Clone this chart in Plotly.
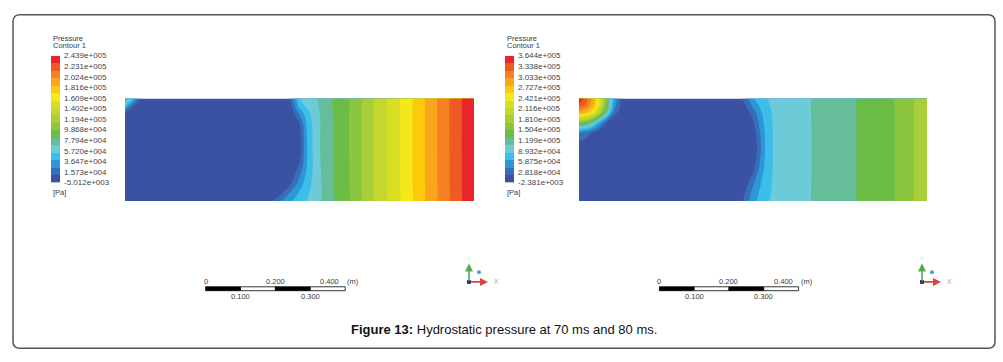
import plotly.graph_objects as go

W, H = 1003, 362

# ---------------- data ----------------
x_grid = [0, 0.02, 0.04, 0.06, 0.08, 0.10, 0.13, 0.20, 0.30, 0.40, 0.44, 0.47,
          0.50, 0.52, 0.54, 0.56, 0.60, 0.65, 0.70, 0.80, 0.90, 1.00]
y_grid = [0, 0.02, 0.05, 0.10, 0.15, 0.20, 0.23, 0.26, 0.28, 0.30]

A = -5012  # field minimum, 70 ms
p70 = [
    [A, A, A, A, A, A, A, A, A, A, 20000, 35000, 48000, 54000, 60000, 67000, 83000, 99000, 121500, 160000, 201500, 243500],
    [A, A, A, A, A, A, A, A, A, A, 4000, 26000, 42000, 51000, 58000, 66500, 83000, 99500, 121800, 160300, 201800, 243600],
    [A, A, A, A, A, A, A, A, A, A, A, 4000, 32000, 46000, 57000, 67000, 83500, 99800, 122000, 160500, 202000, 243700],
    [A, A, A, A, A, A, A, A, A, A, A, A, 12000, 38000, 55500, 67800, 83800, 100000, 122200, 160600, 202100, 243800],
    [A, A, A, A, A, A, A, A, A, A, A, A, -130, 36960, 56100, 68600, 84000, 100100, 122500, 160800, 202300, 243900],
    [A, A, A, A, A, A, A, A, A, A, A, A, 2000, 38000, 56000, 68500, 84100, 100100, 122500, 160800, 202300, 243900],
    [A, A, A, A, A, A, A, A, A, A, A, A, 10000, 40000, 57000, 68500, 84200, 100100, 122400, 160700, 202300, 243900],
    [12000, A, A, A, A, A, A, A, A, A, A, A, 30000, 48000, 60000, 69000, 84500, 100000, 122300, 160700, 202300, 243900],
    [50000, 16000, A, A, A, A, A, A, A, A, A, -2000, 45000, 57000, 63000, 70000, 85000, 99500, 122200, 160600, 202400, 243900],
    [95000, 55000, 16000, A, A, A, A, A, A, A, A, 8000, 53550, 59000, 65000, 71000, 85500, 99000, 122000, 160500, 202500, 243900],
]

B = -2381  # field minimum, 80 ms
p80 = [
    [B, B, B, B, B, B, B, B, B, B, B, 18000, 55000, 70000, 82000, 87000, 92500, 103000, 110500, 127500, 146000, 185000],
    [B, B, B, B, B, B, B, B, B, B, B, 12000, 50000, 66000, 80000, 87000, 92500, 103000, 110500, 127500, 146000, 185000],
    [B, B, B, B, B, B, B, B, B, B, B, B, 38000, 60000, 78000, 86500, 92300, 103000, 110200, 127500, 146000, 185000],
    [B, B, B, B, B, B, B, B, B, B, B, B, 10000, 45000, 74000, 86000, 92000, 103000, 110000, 127500, 146000, 185000],
    [B, B, B, B, B, B, B, B, B, B, B, B, B, 35000, 72000, 86000, 92000, 103000, 110000, 127500, 146000, 185000],
    [40000, 30000, 15000, B, B, B, B, B, B, B, B, B, 5000, 40000, 73000, 86000, 92000, 103000, 110000, 127500, 146000, 185000],
    [150000, 140000, 110000, 60000, 15000, B, B, B, B, B, B, B, 15000, 48000, 75000, 86500, 92200, 103000, 110200, 127500, 146000, 185000],
    [290000, 278000, 245000, 185000, 110000, 32000, B, B, B, B, B, B, 30000, 57000, 78000, 87000, 92300, 103000, 110300, 127500, 146000, 185000],
    [335000, 318000, 280000, 220000, 140000, 52000, B, B, B, B, B, 8000, 45000, 66000, 81000, 87500, 92500, 103000, 110500, 127500, 146000, 185000],
    [364000, 335000, 292000, 230000, 150000, 60000, B, B, B, B, B, 20000, 60000, 75000, 84500, 88000, 93000, 103000, 110500, 127500, 146500, 185000],
]

range70 = [-5012, 243900]
range80 = [-2381, 364400]
labels70 = ["-5.012e+003", "1.573e+004", "3.647e+004", "5.720e+004", "7.794e+004", "9.868e+004",
            "1.194e+005", "1.402e+005", "1.609e+005", "1.816e+005", "2.024e+005", "2.231e+005", "2.439e+005"]
labels80 = ["-2.381e+003", "2.818e+004", "5.875e+004", "8.932e+004", "1.199e+005", "1.504e+005",
            "1.810e+005", "2.116e+005", "2.421e+005", "2.727e+005", "3.033e+005", "3.338e+005", "3.644e+005"]
band_colors = ['#3b52a3', '#376eb9', '#2d96d7', '#3cbeea', '#6ccbd6', '#66bd9a', '#6cbd45',
               '#8cc63f', '#a8cf3a', '#c4d72e', '#d8df22', '#f4e81a', '#fdc90b', '#f9a61c',
               '#f58220', '#ee5a24', '#e9242a']
scale_ticks = [0, 0.1, 0.2, 0.3, 0.4]
scale_offset = 0.231

# ---------------- helpers ----------------
n = len(band_colors)
cscale = []
for i, c in enumerate(band_colors):
    cscale.append([i / n, c])
    cscale.append([(i + 1) / n, c])


def px(x):
    return x / W


def py(y):
    return 1 - y / H


FONT = "Arial, Liberation Sans, sans-serif"
TXT = "#3a3a3a"

fig = go.Figure()

panels = [
    dict(z=p70, rng=range70, labels=labels70, xa='x', ya='y', lx='x3', ly='y3',
         dom=(125, 474), cb=51),
    dict(z=p80, rng=range80, labels=labels80, xa='x2', ya='y2', lx='x4', ly='y4',
         dom=(579, 927), cb=505),
]

layout_axes = {}
annotations = []
shapes = []

for k, p in enumerate(panels):
    lo, hi = p['rng']
    size = (hi - lo) / n
    fig.add_trace(go.Contour(
        x=x_grid, y=y_grid, z=p['z'], xaxis=p['xa'], yaxis=p['ya'],
        zmin=lo, zmax=hi, zauto=False, autocontour=False,
        contours=dict(start=lo + size, end=hi - size * 0.999, size=size,
                      coloring='fill', showlines=False),
        colorscale=cscale, showscale=False, line=dict(width=0, smoothing=1.0),
        hoverinfo='skip'))
    # legend bar
    mids = [lo + size * (i + 0.5) for i in range(n)]
    fig.add_trace(go.Heatmap(
        x=[0], y=mids, z=[[m] for m in mids], xaxis=p['lx'], yaxis=p['ly'],
        zmin=lo, zmax=hi, colorscale=cscale, showscale=False, hoverinfo='skip'))
    tickvals = [lo + (hi - lo) * i / 12 for i in range(13)]

    sx = '' if k == 0 else '2'
    lsx = '3' if k == 0 else '4'
    x0, x1 = p['dom']
    layout_axes['xaxis' + sx] = dict(domain=[px(x0), px(x1)], range=[0, 1], visible=False,
                                     anchor='y' + sx)
    layout_axes['yaxis' + sx] = dict(domain=[py(202), py(97)], range=[0, 0.3], visible=False,
                                     anchor='x' + sx)
    cb = p['cb']
    layout_axes['xaxis' + lsx] = dict(domain=[px(cb), px(cb + 9)], range=[-0.5, 0.5],
                                      visible=False, anchor='y' + lsx)
    layout_axes['yaxis' + lsx] = dict(domain=[py(183), py(53)], range=[lo, hi],
                                      anchor='x' + lsx, side='right', showgrid=False,
                                      zeroline=False, showline=False, ticks='',
                                      tickvals=tickvals, ticktext=p['labels'],
                                      ticklabelstandoff=3,
                                      tickfont=dict(family=FONT, size=8, color='#444444'))
    annotations += [
        dict(x=px(cb), y=py(35), text="Pressure", xanchor='left', yanchor='middle'),
        dict(x=px(cb), y=py(43), text="Contour 1", xanchor='left', yanchor='middle'),
        dict(x=px(cb), y=py(193), text="[Pa]", xanchor='left', yanchor='middle'),
    ]

    # scale bar in data units of the panel axis
    xr = 'x' + sx
    for i in range(len(scale_ticks) - 1):
        shapes.append(dict(type='rect', xref=xr, yref='paper',
                           x0=scale_offset + scale_ticks[i], x1=scale_offset + scale_ticks[i + 1],
                           y0=py(294), y1=py(290),
                           fillcolor='black' if i % 2 == 0 else 'white',
                           line=dict(color='black', width=0.8)))
    for i, t in enumerate(scale_ticks):
        lab = "0" if t == 0 else f"{t:.3f}"
        if i % 2 == 0:
            if i == len(scale_ticks) - 1:
                annotations.append(dict(x=scale_offset + t, y=py(285), xref=xr, text=lab,
                                        xanchor='right', xshift=-4, yanchor='middle'))
                annotations.append(dict(x=scale_offset + t, y=py(285), xref=xr, text="(m)",
                                        xanchor='left', xshift=0, yanchor='middle'))
            else:
                annotations.append(dict(x=scale_offset + t, y=py(285), xref=xr, text=lab,
                                        xanchor='center', yanchor='middle'))
        else:
            annotations.append(dict(x=scale_offset + t, y=py(300), xref=xr, text=lab,
                                    xanchor='center', yanchor='middle'))

    # axis triad
    ox = 469 if k == 0 else 922
    oy = 285
    annotations += [
        dict(x=px(ox), y=py(oy - 19), ax=0, ay=19, text='', showarrow=True, arrowhead=2,
             arrowsize=1, arrowwidth=1.6, arrowcolor='#5aa64e'),
        dict(x=px(ox + 19), y=py(oy), ax=-19, ay=0, text='', showarrow=True, arrowhead=2,
             arrowsize=1, arrowwidth=1.6, arrowcolor='#e0413a'),
        dict(x=px(ox + 27), y=py(oy), text='X', xanchor='center', yanchor='middle',
             font=dict(family=FONT, size=7, color='#ec8a86')),
        dict(x=px(ox), y=py(oy - 23), text='Y', xanchor='center', yanchor='middle',
             font=dict(family=FONT, size=6, color='#c8d8c0')),
    ]
    shapes.append(dict(type='rect', xref='paper', yref='paper', x0=px(ox - 2), x1=px(ox + 2),
                       y0=py(oy + 2), y1=py(oy - 2), fillcolor='#27308a', line=dict(width=0)))
    shapes.append(dict(type='circle', xref='paper', yref='paper', x0=px(ox + 8), x1=px(ox + 12),
                       y0=py(oy - 8), y1=py(oy - 12), fillcolor='#3aa6d8', line=dict(width=0)))

for a in annotations:
    a.setdefault('xref', 'paper')
    a.setdefault('yref', 'paper')
    a.setdefault('showarrow', False)
    a.setdefault('font', dict(family=FONT, size=7.5, color=TXT))

annotations.append(dict(x=px(504), y=py(334), xref='paper', yref='paper', showarrow=False,
                        text="<b>Figure 13:</b> Hydrostatic pressure at 70 ms and 80 ms.",
                        xanchor='center', yanchor='middle',
                        font=dict(family=FONT, size=13, color='#111111')))

# rounded outer frame
r = 7
L, R, T, Bm = 13, 995, 11, 353
path = (f"M {px(L + r)},{py(T)} L {px(R - r)},{py(T)} Q {px(R)},{py(T)} {px(R)},{py(T + r)} "
        f"L {px(R)},{py(Bm - r)} Q {px(R)},{py(Bm)} {px(R - r)},{py(Bm)} "
        f"L {px(L + r)},{py(Bm)} Q {px(L)},{py(Bm)} {px(L)},{py(Bm - r)} "
        f"L {px(L)},{py(T + r)} Q {px(L)},{py(T)} {px(L + r)},{py(T)} Z")
shapes.append(dict(type='path', xref='paper', yref='paper', path=path,
                   line=dict(color='#555555', width=1.5)))

fig.update_layout(width=W, height=H, margin=dict(l=0, r=0, t=0, b=0),
                  paper_bgcolor='white', plot_bgcolor='white', showlegend=False,
                  annotations=annotations, shapes=shapes, **layout_axes)

fig.write_html("out.html", config={'displayModeBar': False, 'staticPlot': True},
               post_script="document.body.style.margin='0';document.body.style.padding='0';"
                           "document.body.style.overflow='hidden';")
